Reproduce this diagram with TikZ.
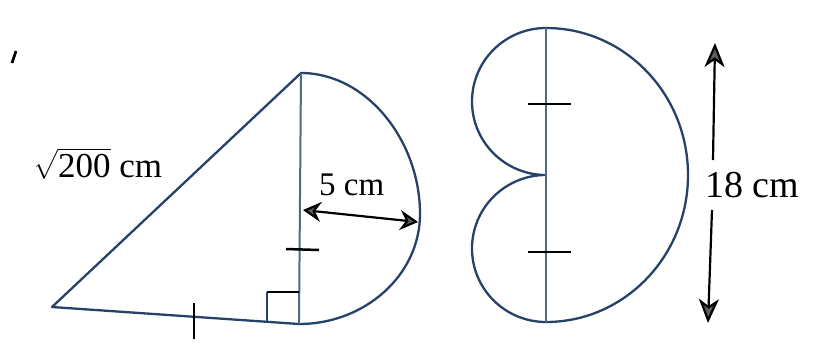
\documentclass[tikz,border=0pt]{standalone}
\usepackage{exscale}
\usepackage{fontspec}
\setmainfont{Liberation Serif}
\usetikzlibrary{arrows.meta}
\definecolor{figline}{RGB}{38,66,104}
\definecolor{tipgray}{RGB}{95,95,95}
\begin{document}
\begin{tikzpicture}[x=1pt,y=-1pt,
  figure/.style={draw=figline,line width=2.3pt,line join=round},
  midline/.style={draw=figline!80,line width=2pt},
  tickmark/.style={draw=black,line width=2.5pt},
  bigtip/.style={-{Stealth[length=24pt,width=20pt,inset=7pt,fill=tipgray]}},
  smalltip/.style={{Stealth[length=18pt,width=20pt,inset=6pt,fill=tipgray]}-{Stealth[length=18pt,width=20pt,inset=6pt,fill=tipgray]}},
  dimline/.style={draw=black,line width=2.2pt},
  lbl/.style={inner sep=0pt,anchor=base west,text=black}]
\useasboundingbox[fill=white] (0,0) rectangle (825,360);

% ---------- left figure ----------
\coordinate (T) at (301,73);
\coordinate (B) at (299,324);
\coordinate (L) at (52,307);
\coordinate (R) at (420,214);
\draw[figure] (B) -- (L) -- (T)
  .. controls (366,73) and (420,140) .. (R)
  .. controls (420,275) and (365,324) .. (B);
\draw[midline] (T) -- (B);
% right angle mark
\coordinate (ra1) at (267,322);
\coordinate (ra2) at (267,292);
\coordinate (ra3) at (299,292);
\draw[figline,line width=1.8pt] (ra1) -- (ra2);
\draw[black,line width=1.8pt] (ra2) -- (ra3);
% ticks
\coordinate (tk1a) at (286,249);
\coordinate (tk1b) at (319,250);
\draw[tickmark] (tk1a) -- (tk1b);
\coordinate (tk2a) at (194,303);
\coordinate (tk2b) at (194,339);
\draw[tickmark] (tk2a) -- (tk2b);
% 5 cm dimension
\coordinate (d5a) at (303,210);
\coordinate (d5b) at (418,222);
\draw[dimline,smalltip] (d5a) -- (d5b);
\node[lbl,font=\fontsize{33}{36}\selectfont] (l5) at (319,195) {5 cm};
\node[lbl,font=\fontsize{35}{40}\selectfont] (l200) at (33,177) {$\sqrt{\hbox{200}}$ cm};
% stray mark
\coordinate (sm1) at (16,51);
\coordinate (sm2) at (12,63);
\draw[black,line width=2.8pt] (sm1) -- (sm2);

% ---------- right figure ----------
\coordinate (T2) at (546,28);
\coordinate (C2) at (546,175);
\coordinate (B2) at (546,322);
\draw[figure] (T2) arc[start angle=-90,end angle=-270,x radius=74,y radius=73.5]
  arc[start angle=-90,end angle=-270,x radius=74,y radius=73.5]
  arc[start angle=90,end angle=-90,x radius=142,y radius=147];
\draw[midline] (T2) -- (B2);
\coordinate (tk3a) at (528,104);
\coordinate (tk3b) at (571,104);
\draw[tickmark] (tk3a) -- (tk3b);
\coordinate (tk4a) at (528,252);
\coordinate (tk4b) at (571,252);
\draw[tickmark] (tk4a) -- (tk4b);
% 18 cm dimension
\coordinate (a18s1) at (713,160);
\coordinate (a18t1) at (715,43);
\coordinate (a18s2) at (712,210);
\coordinate (a18t2) at (708,323);
\draw[dimline,bigtip] (a18s1) -- (a18t1);
\draw[dimline,bigtip] (a18s2) -- (a18t2);
\node[lbl,font=\fontsize{38}{42}\selectfont] (l18) at (705,197) {18 cm};
\end{tikzpicture}
\end{document}
